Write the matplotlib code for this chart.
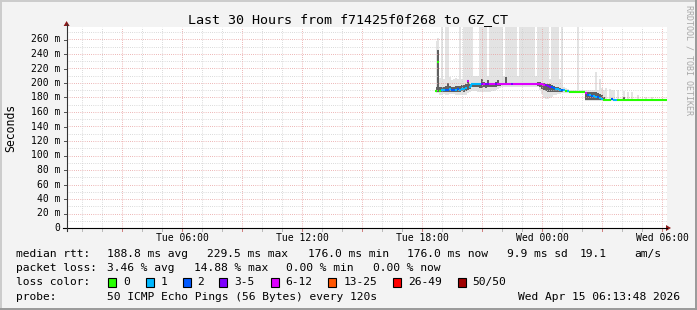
import numpy as np
import matplotlib
matplotlib.use("Agg")
import matplotlib.pyplot as plt
from matplotlib.collections import LineCollection
from matplotlib.patches import Rectangle, Polygon
from matplotlib.lines import Line2D

W, H = 697, 310

# ---------------- data ----------------
title = "Last 30 Hours from f71425f0f268 to GZ_CT"
x_start, x_end = 0.23, 30.23          # hours since Tue 00:00
data_start, data_step = 18.7, 0.1     # hours

x_tick_pos = [6, 12, 18, 24, 30]
x_tick_labels = ["Tue 06:00", "Tue 12:00", "Tue 18:00", "Wed 00:00", "Wed 06:00"]
y_tick_vals = [0, 20, 40, 60, 80, 100, 120, 140, 160, 180, 200, 220, 240, 260]
y_tick_labels = ["0", "20 m", "40 m", "60 m", "80 m", "100 m", "120 m", "140 m",
                 "160 m", "180 m", "200 m", "220 m", "240 m", "260 m"]

median_ms = [
    189, 229.5, 189.5, 190, 190.5, 191, 190.5, 191.5, 191, 190.5,
    191, 191.5, 191, 192, 191.5, 192.5, 203, 195, 198, 198.5,
    198, 198.5, 198, 198.5, 199, 198.5, 198, 198.5, 198, 198,
    198.5, 198, 198, 198.5, 198, 198, 198.5, 198, 198, 198,
    198.5, 198, 198, 198, 198.5, 198, 198, 198, 198.5, 198,
    198, 198.5, 199, 198.5, 197.5, 197, 196, 195, 194, 193,
    192, 191.5, 191, 190.5, 190, 189, 188.5, 188, 188, 188,
    188, 188, 188, 188, 188, 186, 184, 183, 182, 182,
    181, 180, 179, 178, 176.5, 176, 176, 176, 178, 176,
    176, 176, 176, 176, 176, 176, 176, 176, 176, 176,
    176, 176, 176, 176, 176, 176, 176, 176, 176, 176,
    176, 176, 176, 176, 176, 176]

lost_pings = [
    0, 0, 0, 1, 1, 2, 2, 1, 2, 2,
    1, 2, 1, 1, 1, 1, 7, 1, 1, 1,
    1, 1, 1, 4, 7, 4, 4, 7, 7, 7,
    4, 7, 7, 7, 7, 7, 7, 7, 4, 7,
    7, 7, 7, 7, 7, 7, 7, 7, 7, 7,
    7, 7, 7, 7, 7, 4, 4, 4, 2, 2,
    1, 1, 1, 2, 1, 0, 1, 0, 0, 0,
    0, 0, 0, 0, 0, 7, 2, 1, 2, 1,
    1, 2, 1, 1, 0, 0, 0, 0, 2, 1,
    1, 0, 0, 0, 0, 0, 0, 0, 0, 0,
    0, 0, 0, 0, 0, 0, 0, 0, 0, 0,
    0, 0, 0, 0, 0, 0]

smoke_min = [
    186, 186, 184, 184, 185, 184, 184, 185, 185, 185,
    184, 184, 183, 183, 183, 183, 186, 188, 189, 189,
    189, 188, 188, 188, 188, 188, 188, 188, 189, 189,
    190, 192, 193, 194, 194, 194, 195, 195, 195, 195,
    195, 195, 195, 195, 195, 195, 195, 195, 195, 195,
    195, 194, 190, 185, 179, 178, 178, 179, 181, 183,
    184, 185, 185, 186, 186, 186, 186, 187, 187, 187,
    187, 187, 187, 187, 187, 175, 175, 175, 175, 175,
    175, 175, 175, 175, 175, 175.5, 175.5, 175.5, 175.5, 175.5,
    175.5, 175.5, 175.5, 175.5, 175.5, 175.5, 175.5, 175.5, 175.5, 175.5,
    175.5, 175.5, 175.5, 175.5, 175.5, 175.5, 175.5, 175.5, 175.5, 175.5,
    175.5, 175.5, 175.5, 175.5, 175.5, 175.5]

smoke_q1 = [
    188, 188, 187, 187, 188, 188, 187, 188, 188, 187,
    188, 188, 188, 189, 188, 189, 190, 192, 194, 194,
    194, 194, 193, 193, 194, 193, 194, 194, 194, 195,
    195, 196, 196, 197, 197, 197, 197, 197, 197, 197,
    197, 197, 197, 197, 197, 197, 197, 197, 197, 197,
    197, 196, 194, 192, 190, 189, 188, 188, 188, 187,
    187, 187, 188, 188, 189, 188, 188, 187.5, 187.5, 187.5,
    187.5, 187.5, 187.5, 187.5, 187.5, 176, 176, 176, 176, 176,
    176, 176, 176, 176, 175.5, 175.5, 175.5, 175.5, 176, 175.5,
    175.5, 175.5, 175.5, 175.5, 175.5, 175.5, 175.5, 175.5, 175.5, 175.5,
    175.5, 175.5, 175.5, 175.5, 175.5, 175.5, 175.5, 175.5, 175.5, 175.5,
    175.5, 175.5, 175.5, 175.5, 175.5, 175.5]

smoke_q3 = [
    195, 245, 194, 195, 195, 196, 200, 196, 195, 195,
    196, 196, 196, 197, 197, 198, 204, 198, 200, 200,
    200, 200, 200, 205, 201, 200, 204, 200, 200, 200,
    201, 204, 200, 200, 200, 208, 200, 200, 200, 200,
    200, 200, 200, 200, 200, 200, 200, 200, 200, 200,
    200, 201, 201, 200, 200, 199, 199, 198, 197, 196,
    195, 194, 193, 192, 191, 190, 190, 189, 189, 189,
    189, 189, 189, 189, 189, 188, 188, 188, 188, 187,
    187, 186, 185, 183, 180, 177, 177, 177, 179, 177,
    177, 177, 177, 177, 180, 177, 177, 177, 177, 177,
    177, 177, 177, 177, 177, 177, 177, 177, 177, 177,
    177, 177, 177, 177, 177, 177]

smoke_max = [
    258, 262, 207, 300, 205, 300, 300, 208, 204, 206,
    207, 205, 300, 206, 300, 300, 300, 300, 300, 210,
    209, 210, 300, 300, 300, 300, 209, 300, 300, 300,
    300, 300, 300, 300, 210, 300, 300, 300, 300, 300,
    300, 209, 300, 300, 300, 300, 300, 300, 300, 300,
    210, 300, 300, 300, 300, 300, 300, 205, 300, 300,
    300, 300, 205, 300, 195, 193, 192, 191, 191, 191,
    191, 300, 191, 191, 191, 190, 190, 190, 190, 190,
    215, 190, 205, 193, 190, 193, 178, 192, 190, 190,
    178, 191, 178, 178, 189, 178, 188, 178, 187, 178,
    178, 184, 178, 178, 178, 181, 178, 178, 181, 178,
    178, 178, 178, 178, 178, 178]

loss_legend = ["0", "1", "2", "3-5", "6-12", "13-25", "26-49", "50/50"]
loss_colors = ["#26ff00", "#00b8ff", "#0059ff", "#7e00ff", "#dd00ff",
               "#ff5500", "#ff0000", "#a00000"]


def loss_color(n):
    if n == 0:
        return loss_colors[0]
    if n == 1:
        return loss_colors[1]
    if n == 2:
        return loss_colors[2]
    if n <= 5:
        return loss_colors[3]
    if n <= 12:
        return loss_colors[4]
    if n <= 25:
        return loss_colors[5]
    if n <= 49:
        return loss_colors[6]
    return loss_colors[7]


# ---------------- figure ----------------
plt.rcParams['font.family'] = ['DejaVu Sans Mono']
fig = plt.figure(figsize=(W / 100, H / 100), dpi=100)
fig.patch.set_facecolor("#f3f3f3")

left_px, right_px, top_px, bottom_px = 66.6, 666.6, 27.0, 228.0
ax = fig.add_axes([left_px / W, 1 - bottom_px / H,
                   (right_px - left_px) / W, (bottom_px - top_px) / H])
ax.set_facecolor("white")
ymax = (bottom_px - top_px) / 0.725
ax.set_xlim(x_start, x_end)
ax.set_ylim(0, ymax)
for s in ax.spines.values():
    s.set_visible(False)
ax.set_xticks([])
ax.set_yticks([])

t = data_start + data_step * np.arange(len(median_ms))
med = np.array(median_ms, float)

# smoke
ax.fill_between(t, smoke_min, smoke_max, step='mid', color="#e3e3e3", lw=0, zorder=2)
ax.fill_between(t, smoke_q1, smoke_q3, step='mid', color="#606060", lw=0, zorder=3)

# grid (drawn over smoke as rrdtool does)
dot = (0, (0.72, 1.44))
for v in np.arange(10, ymax, 10):
    major = (round(v) % 20 == 0)
    ax.axhline(v, color="#e8a0a0" if major else "#cfcfcf", lw=0.72,
               ls=dot, zorder=4)
for h in range(1, 31):
    major = (h % 3 == 0)
    ax.axvline(h, color="#e8a0a0" if major else "#cfcfcf", lw=0.72,
               ls=dot, zorder=4)

# median line coloured by loss
segs, cols = [], []
half = data_step / 2
for i in range(len(med)):
    c = loss_color(lost_pings[i])
    segs.append([(t[i] - half, med[i]), (t[i] + half, med[i])])
    cols.append(c)
    if (i + 1 < len(med) and loss_color(lost_pings[i + 1]) == c
            and med[i + 1] != med[i] and abs(med[i + 1] - med[i]) < 5):
        segs.append([(t[i] + half, med[i]), (t[i] + half, med[i + 1])])
        cols.append(c)
lc = LineCollection(segs, colors=cols, linewidths=1.5, zorder=5, capstyle='butt')
ax.add_collection(lc)

# ---------------- axes lines, ticks, arrows (pixel coords) ----------------
def fx(x):
    return x / W


def fy(y):
    return 1 - y / H


def xpx(h):
    return left_px + (h - x_start) * 20.0


def ypx(v):
    return bottom_px - v * 0.725


# ticks on x axis
for h in range(1, 31):
    major = (h % 3 == 0)
    fig.add_artist(Line2D([fx(xpx(h)), fx(xpx(h))], [fy(bottom_px), fy(bottom_px + 2.5)],
                          color="#d08080" if major else "#bbbbbb", lw=0.72))
# ticks on y axis
for v in y_tick_vals:
    fig.add_artist(Line2D([fx(left_px - 3), fx(left_px)], [fy(ypx(v)), fy(ypx(v))],
                          color="#555555", lw=0.72))

fig.add_artist(Line2D([fx(63), fx(667)], [fy(bottom_px), fy(bottom_px)], color="black", lw=0.8))
fig.add_artist(Line2D([fx(left_px), fx(left_px)], [fy(bottom_px + 3), fy(24)], color="#333333", lw=0.8))
fig.add_artist(Polygon([(fx(666), fy(bottom_px - 3)), (fx(666), fy(bottom_px + 3)),
                        (fx(671), fy(bottom_px))], closed=True, color="#8b1a1a", lw=0))
fig.add_artist(Polygon([(fx(left_px - 3), fy(26)), (fx(left_px + 3), fy(26)),
                        (fx(left_px), fy(21))], closed=True, color="#8b1a1a", lw=0))

# tick labels
for h, lab in zip(x_tick_pos, x_tick_labels):
    fig.text(fx(xpx(h)), fy(238), lab, ha='center', va='center', fontsize=7)
for v, lab in zip(y_tick_vals, y_tick_labels):
    fig.text(fx(60.5), fy(ypx(v)), lab, ha='right', va='center', fontsize=7)

fig.text(fx(11), fy(127.5), "Seconds", rotation=90, ha='center', va='center', fontsize=8.3)
fig.text(fx(347.5), fy(19.5), title, ha='center', va='center', fontsize=9.6)
fig.text(fx(688.5), fy(60), "RRDTOOL / TOBI OETIKER", rotation=270, ha='center',
         va='center', fontsize=6, color="#a8a8a8")

# ---------------- legend ----------------
fs = 8.1
rows = [
    (254, [(16, "median rtt:"), (107.4, "188.8 ms avg"), (207.4, "229.5 ms max"),
           (307.5, "176.0 ms min"), (407.4, "176.0 ms now"), (507.3, "9.9 ms sd"),
           (580, "19.1"), (634, "am/s")]),
    (268, [(16, "packet loss:"), (107.4, "3.46 % avg"), (194, "14.88 % max"),
           (286.2, "0.00 % min"), (372.7, "0.00 % now")]),
    (282, [(16, "loss color:")]),
    (296.5, [(16, "probe:"), (107.4, "50 ICMP Echo Pings (56 Bytes) every 120s")]),
]
for y, items in rows:
    for x, s in items:
        fig.text(fx(x), fy(y), s, ha='left', va='center', fontsize=fs)
fig.text(fx(680), fy(296.5), "Wed Apr 15 06:13:48 2026", ha='right', va='center', fontsize=fs)

box_x = [108.3, 146, 182.7, 219.3, 270.7, 328.3, 393.3, 457.8]
lab_x = [123, 160.5, 197.3, 234, 285, 343.3, 408, 472.4]
for bx, lx, c, lab in zip(box_x, lab_x, loss_colors, loss_legend):
    fig.add_artist(Rectangle((fx(bx), fy(286.5)), 8 / W, 9 / H, facecolor=c,
                             edgecolor="black", lw=0.8))
    fig.text(fx(lx), fy(282), lab, ha='left', va='center', fontsize=fs)

# frame shading
fig.add_artist(Line2D([0, 1], [fy(0.5), fy(0.5)], color="#cbcbcb", lw=1.4))
fig.add_artist(Line2D([fx(0.5), fx(0.5)], [0, 1], color="#cbcbcb", lw=1.4))
fig.add_artist(Line2D([0, 1], [fy(309), fy(309)], color="#999999", lw=1.4))
fig.add_artist(Line2D([fx(696), fx(696)], [0, 1], color="#999999", lw=1.4))

fig.savefig("out.png", dpi=100, facecolor=fig.get_facecolor())
